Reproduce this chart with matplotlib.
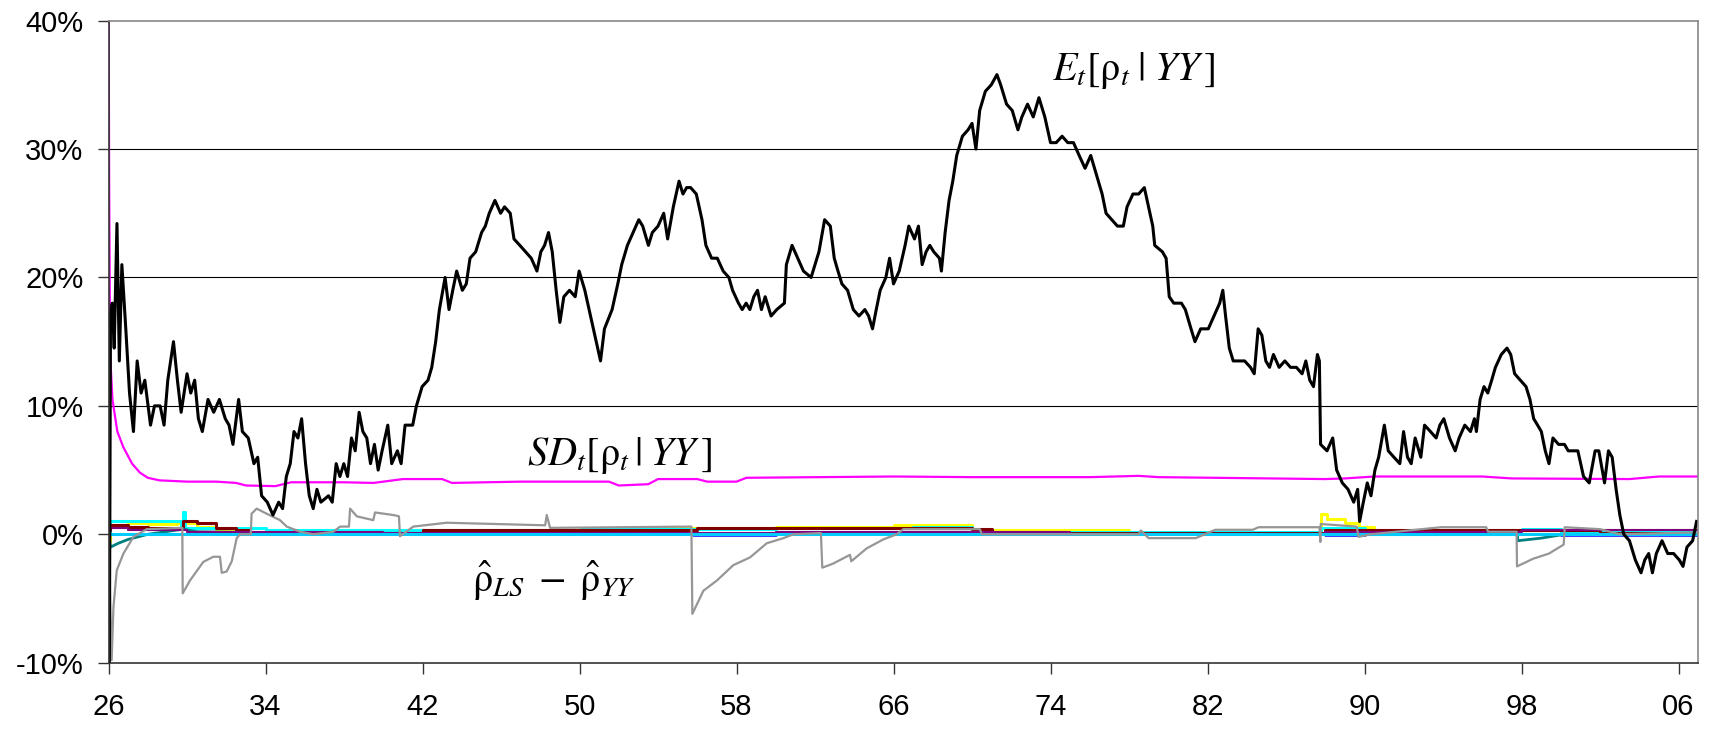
import numpy as np
import matplotlib
matplotlib.use("Agg")
import matplotlib.pyplot as plt
from matplotlib.ticker import FixedLocator, FuncFormatter

# ---------------- data (values in %) ----------------
# posterior mean E_t[rho_t | YY]
e_year = [1926.00, 1926.04, 1926.10, 1926.19, 1926.29, 1926.43, 1926.55, 1926.68, 1926.88,
          1927.07, 1927.27, 1927.46, 1927.66, 1927.85, 1928.14, 1928.34, 1928.63, 1928.83,
          1929.02, 1929.31, 1929.51, 1929.70, 1930.00, 1930.19, 1930.39, 1930.58, 1930.78,
          1931.07, 1931.36, 1931.65, 1931.95, 1932.14, 1932.34, 1932.63, 1932.82, 1933.12,
          1933.41, 1933.60, 1933.80, 1934.09, 1934.38, 1934.67, 1934.87, 1935.06, 1935.26,
          1935.45, 1935.65, 1935.84, 1936.04, 1936.23, 1936.43, 1936.62, 1936.82, 1937.21,
          1937.40, 1937.60, 1937.79, 1937.99, 1938.18, 1938.38, 1938.57, 1938.77, 1938.96,
          1939.16, 1939.35, 1939.55, 1939.74, 1939.94, 1940.23, 1940.43, 1940.72, 1940.91,
          1941.11, 1941.50, 1941.69, 1941.98, 1942.28, 1942.47, 1942.67, 1942.86, 1943.15,
          1943.35, 1943.54, 1943.74, 1944.03, 1944.23, 1944.42, 1944.71, 1945.01, 1945.20,
          1945.40, 1945.69, 1945.98, 1946.18, 1946.47, 1946.66, 1946.96, 1947.25, 1947.54,
          1947.83, 1948.03, 1948.22, 1948.42, 1948.61, 1948.81, 1949.00, 1949.20, 1949.49,
          1949.78, 1949.98, 1950.27, 1950.56, 1950.85, 1951.07, 1951.27, 1951.66, 1951.95,
          1952.15, 1952.44, 1952.73, 1953.02, 1953.22, 1953.51, 1953.71, 1954.00, 1954.29,
          1954.49, 1954.78, 1955.07, 1955.27, 1955.46, 1955.66, 1955.95, 1956.24, 1956.44,
          1956.73, 1957.02, 1957.32, 1957.61, 1957.80, 1958.10, 1958.29, 1958.49, 1958.68,
          1958.88, 1959.07, 1959.27, 1959.46, 1959.76, 1960.05, 1960.44, 1960.54, 1960.83,
          1961.12, 1961.41, 1961.80, 1962.00, 1962.20, 1962.49, 1962.78, 1962.98, 1963.17,
          1963.37, 1963.66, 1963.95, 1964.24, 1964.54, 1964.73, 1964.93, 1965.12, 1965.32,
          1965.61, 1965.80, 1966.00, 1966.29, 1966.59, 1966.78, 1967.07, 1967.27, 1967.46,
          1967.66, 1967.85, 1968.05, 1968.34, 1968.44, 1968.63, 1968.83, 1969.02, 1969.22,
          1969.51, 1969.80, 1970.00, 1970.20, 1970.39, 1970.68, 1970.98, 1971.27, 1971.46,
          1971.76, 1972.05, 1972.34, 1972.54, 1972.83, 1973.12, 1973.41, 1973.71, 1974.00,
          1974.29, 1974.59, 1974.88, 1975.17, 1975.46, 1975.76, 1976.05, 1976.34, 1976.63,
          1976.83, 1977.12, 1977.41, 1977.71, 1977.90, 1978.20, 1978.49, 1978.78, 1979.07,
          1979.21, 1979.31, 1979.70, 1979.89, 1980.05, 1980.28, 1980.67, 1980.87, 1981.16,
          1981.36, 1981.65, 1982.04, 1982.33, 1982.62, 1982.78, 1982.92, 1983.11, 1983.31,
          1983.60, 1983.89, 1984.19, 1984.38, 1984.58, 1984.77, 1984.97, 1985.16, 1985.36,
          1985.65, 1985.94, 1986.23, 1986.53, 1986.82, 1987.01, 1987.21, 1987.40, 1987.60,
          1987.70, 1987.76, 1988.09, 1988.38, 1988.58, 1988.87, 1989.16, 1989.45, 1989.65,
          1989.75, 1989.94, 1990.14, 1990.33, 1990.53, 1990.72, 1991.01, 1991.21, 1991.50,
          1991.80, 1991.99, 1992.19, 1992.38, 1992.58, 1992.87, 1993.06, 1993.36, 1993.65,
          1993.84, 1994.04, 1994.33, 1994.62, 1994.82, 1995.11, 1995.40, 1995.60, 1995.70,
          1995.89, 1996.09, 1996.28, 1996.48, 1996.67, 1996.97, 1997.26, 1997.45, 1997.65,
          1997.94, 1998.23, 1998.43, 1998.62, 1998.82, 1999.01, 1999.21, 1999.40, 1999.60,
          1999.89, 2000.19, 2000.38, 2000.67, 2000.87, 2001.16, 2001.45, 2001.75, 2001.94,
          2002.23, 2002.43, 2002.62, 2002.82, 2003.01, 2003.21, 2003.50, 2003.80, 2004.09,
          2004.28, 2004.48, 2004.67, 2004.87, 2005.16, 2005.45, 2005.75, 2006.04, 2006.23,
          2006.43, 2006.72, 2006.92]
e_val = [-12.0, -12.0, 17.0, 18.0, 14.5, 24.2, 13.5, 21.0, 16.0,
         11.0, 8.0, 13.5, 11.0, 12.0, 8.5, 10.0, 10.0, 8.5,
         12.0, 15.0, 12.0, 9.5, 12.5, 11.0, 12.0, 9.0, 8.0,
         10.5, 9.5, 10.5, 9.0, 8.5, 7.0, 10.5, 8.0, 7.5,
         5.5, 6.0, 3.0, 2.5, 1.5, 2.5, 2.0, 4.5, 5.5,
         8.0, 7.5, 9.0, 5.5, 3.0, 2.0, 3.5, 2.5, 3.0,
         2.5, 5.5, 4.5, 5.5, 4.5, 7.5, 6.5, 9.5, 8.0,
         7.5, 5.5, 7.0, 5.0, 6.5, 8.5, 5.5, 6.5, 5.5,
         8.5, 8.5, 10.0, 11.5, 12.0, 13.0, 15.0, 17.5, 20.0,
         17.5, 19.0, 20.5, 19.0, 19.5, 21.5, 22.0, 23.5, 24.0,
         25.0, 26.0, 25.0, 25.5, 25.0, 23.0, 22.5, 22.0, 21.5,
         20.5, 22.0, 22.5, 23.5, 22.0, 19.0, 16.5, 18.5, 19.0,
         18.5, 20.5, 19.0, 17.0, 15.0, 13.5, 16.0, 17.5, 19.5,
         21.0, 22.5, 23.5, 24.5, 24.0, 22.5, 23.5, 24.0, 25.0,
         23.0, 25.5, 27.5, 26.5, 27.0, 27.0, 26.5, 24.5, 22.5,
         21.5, 21.5, 20.5, 20.0, 19.0, 18.0, 17.5, 18.0, 17.5,
         18.5, 19.0, 17.5, 18.5, 17.0, 17.5, 18.0, 21.0, 22.5,
         21.5, 20.5, 20.0, 21.0, 22.0, 24.5, 24.0, 21.5, 20.5,
         19.5, 19.0, 17.5, 17.0, 17.5, 17.0, 16.0, 17.5, 19.0,
         20.0, 21.5, 19.5, 20.5, 22.5, 24.0, 23.0, 24.0, 21.0,
         22.0, 22.5, 22.0, 21.5, 20.5, 23.5, 26.0, 27.5, 29.5,
         31.0, 31.5, 32.0, 30.0, 33.0, 34.5, 35.0, 35.8, 35.0,
         33.5, 33.0, 31.5, 32.5, 33.5, 32.5, 34.0, 32.5, 30.5,
         30.5, 31.0, 30.5, 30.5, 29.5, 28.5, 29.5, 28.0, 26.5,
         25.0, 24.5, 24.0, 24.0, 25.5, 26.5, 26.5, 27.0, 25.0,
         24.0, 22.5, 22.0, 21.5, 18.5, 18.0, 18.0, 17.5, 16.0,
         15.0, 16.0, 16.0, 17.0, 18.0, 19.0, 17.0, 14.5, 13.5,
         13.5, 13.5, 13.0, 12.5, 16.0, 15.5, 13.5, 13.0, 14.0,
         13.0, 13.5, 13.0, 13.0, 12.5, 13.5, 12.0, 11.5, 14.0,
         13.5, 7.0, 6.5, 7.5, 5.0, 4.0, 3.5, 2.5, 3.5,
         1.0, 2.5, 4.0, 3.0, 5.0, 6.0, 8.5, 6.5, 6.0,
         5.5, 8.0, 6.0, 5.5, 7.5, 6.0, 8.5, 8.0, 7.5,
         8.5, 9.0, 7.5, 6.5, 7.5, 8.5, 8.0, 9.0, 8.0,
         10.5, 11.5, 11.0, 12.0, 13.0, 14.0, 14.5, 14.0, 12.5,
         12.0, 11.5, 10.5, 9.0, 8.5, 8.0, 6.5, 5.5, 7.5,
         7.0, 7.0, 6.5, 6.5, 6.5, 4.5, 4.0, 6.5, 6.5,
         4.0, 6.5, 6.0, 3.5, 1.5, 0.0, -0.5, -2.0, -3.0,
         -2.0, -1.5, -3.0, -1.5, -0.5, -1.5, -1.5, -2.0, -2.5,
         -1.0, -0.5, 1.0]

# posterior standard deviation SD_t[rho_t | YY]
sd_year = [1926.00, 1926.03, 1926.08, 1926.20, 1926.45, 1926.75, 1927.20, 1927.60, 1928.00,
           1928.60, 1930.00, 1931.50, 1932.50, 1933.00, 1934.50, 1935.30, 1938.00, 1939.50,
           1941.00, 1943.00, 1943.50, 1947.00, 1951.50, 1952.00, 1953.50, 1954.00, 1956.00,
           1956.50, 1958.00, 1958.50, 1966.00, 1970.00, 1976.00, 1978.50, 1979.50, 1988.00,
           1989.00, 1990.50, 1996.00, 1997.50, 2003.50, 2005.00, 2006.98]
sd_val = [45.0, 28.0, 14.0, 10.5, 8.0, 6.8, 5.5, 4.8, 4.4,
          4.2, 4.1, 4.1, 4.0, 3.8, 3.75, 4.05, 4.05, 4.0,
          4.3, 4.3, 4.0, 4.1, 4.1, 3.8, 3.9, 4.3, 4.3,
          4.1, 4.1, 4.4, 4.5, 4.45, 4.45, 4.55, 4.45, 4.3,
          4.35, 4.5, 4.5, 4.35, 4.3, 4.5, 4.5]

# differences rho_LS - rho_YY (one line per estimator)
gray_year = [1926.00, 1926.16, 1926.25, 1926.42, 1926.76, 1927.27, 1927.95, 1929.76, 1929.78,
             1930.15, 1930.83, 1931.34, 1931.68, 1931.77, 1932.02, 1932.28, 1932.53, 1932.70,
             1933.25, 1933.29, 1933.55, 1934.06, 1934.74, 1935.08, 1935.76, 1936.44, 1937.46,
             1937.80, 1938.25, 1938.31, 1938.65, 1939.49, 1939.58, 1940.51, 1940.80, 1940.85,
             1941.53, 1943.23, 1948.25, 1948.33, 1948.50, 1955.70, 1955.75, 1956.31, 1957.00,
             1957.84, 1958.69, 1959.54, 1960.39, 1960.90, 1962.30, 1962.37, 1962.90, 1963.78,
             1963.85, 1964.63, 1965.48, 1966.16, 1966.50, 1970.40, 1970.50, 1978.50, 1978.60,
             1979.00, 1981.40, 1982.40, 1984.30, 1984.60, 1987.70, 1987.75, 1987.77, 1989.60,
             1989.70, 1990.30, 1993.90, 1996.20, 1996.30, 1997.75, 1997.77, 1998.60, 1999.40,
             2000.15, 2000.20, 2002.00, 2003.00, 2006.98]
gray_val = [0.0, -9.8, -5.7, -2.8, -1.5, -0.2, 0.4, 0.5, -4.6,
            -3.6, -2.15, -1.75, -1.75, -3.0, -2.9, -2.1, -0.3, 0.0,
            0.0, 1.6, 2.0, 1.6, 1.1, 0.6, 0.2, 0.0, 0.2,
            0.6, 0.6, 2.0, 1.4, 1.1, 1.7, 1.5, 1.4, -0.15,
            0.6, 0.9, 0.7, 1.5, 0.5, 0.6, -6.2, -4.4, -3.6,
            -2.4, -1.8, -0.7, -0.3, 0.0, 0.1, -2.6, -2.3, -1.6,
            -2.1, -1.1, -0.4, 0.0, 0.4, 0.4, 0.0, 0.0, 0.3,
            -0.3, -0.3, 0.35, 0.35, 0.55, 0.55, -0.6, 0.8, 0.6,
            -0.2, 0.0, 0.55, 0.55, 0.2, 0.2, -2.5, -1.9, -1.5,
            -0.8, 0.55, 0.4, 0.0, 0.15]

yellow_year = [1926.00, 1926.10, 1927.00, 1928.00, 1929.50, 1930.50, 1931.50, 1933.00, 1940.00,
               1950.00, 1960.00, 1966.00, 1970.00, 1978.00, 1979.50, 1982.00, 1987.70, 1987.77,
               1988.10, 1989.00, 1989.70, 1990.50, 1995.00, 1997.50, 1998.50, 2003.00, 2006.98]
yellow_val = [-0.5, 1.0, 0.9, 0.8, 0.9, 0.6, 0.4, 0.2, 0.3,
              0.5, 0.6, 0.7, 0.3, 0.1, 0.2, 0.1, 0.1, 1.6,
              1.2, 0.9, 0.6, 0.2, 0.2, 0.3, 0.3, 0.3, 0.4]

cyan_year = [1926.00, 1926.10, 1929.70, 1929.80, 1929.90, 1933.30, 1934.00, 1940.00, 1950.00,
             1960.00, 1967.00, 1970.00, 1987.70, 1987.77, 1990.00, 1997.80, 1998.00, 2000.00,
             2006.98]
cyan_val = [0.0, 1.0, 0.6, 1.7, 0.5, 0.5, 0.3, 0.3, 0.4,
            0.5, 0.6, 0.2, 0.2, 0.5, 0.0, 0.3, 0.4, 0.2,
            0.3]

maroon_year = [1926.00, 1926.10, 1927.00, 1928.00, 1929.00, 1929.80, 1930.50, 1931.50, 1932.50,
               1933.20, 1940.00, 1942.00, 1948.00, 1955.00, 1956.00, 1962.00, 1966.00, 1970.00,
               1971.00, 1988.00, 1989.00, 2000.00, 2002.00, 2006.98]
maroon_val = [0.3, 0.7, 0.6, 0.5, 0.5, 1.0, 0.9, 0.5, 0.3,
              0.1, 0.1, 0.3, 0.3, 0.3, 0.5, 0.5, 0.5, 0.4,
              0.1, 0.3, 0.3, 0.3, 0.1, 0.1]

teal_year = [1926.00, 1926.10, 1926.50, 1927.00, 1928.00, 1929.80, 1930.50, 1940.00, 1960.00,
             1987.70, 1997.78, 1997.82, 1999.00, 2000.20, 2006.98]
teal_val = [0.0, -1.0, -0.7, -0.4, 0.0, 0.4, 0.2, 0.0, 0.0,
            0.0, 0.0, -0.5, -0.3, 0.0, 0.0]

purple_year = [1926.00, 1926.10, 1927.00, 1930.00, 1940.00, 1960.00, 1975.00, 1988.00, 1998.00, 2006.98]
purple_val = [0.0, 0.5, 0.3, 0.2, 0.1, 0.2, 0.0, 0.2, 0.3, 0.1]

blue_year = [1926.00, 1933.30, 1955.80, 1960.00, 1988.00, 1990.00, 1997.80, 2000.00, 2006.98]
blue_val = [0.05, 0.0, -0.05, 0.0, -0.05, 0.0, 0.05, -0.05, 0.0]

sky_year = [1926.00, 2006.98]
sky_val = [0.0, 0.0]

tick_years = list(range(1926, 2007, 8))
tick_pct = [-10, 0, 10, 20, 30, 40]

# ---------------- plot ----------------
plt.rcParams['font.family'] = ['Liberation Sans', 'DejaVu Sans']
plt.rcParams['mathtext.fontset'] = 'stix'
plt.rcParams['axes.unicode_minus'] = False

fig = plt.figure(figsize=(17.09, 7.30), dpi=100)
ax = fig.add_axes([0.0635, 0.0922, 0.9298, 0.8795])

# small lines first, black on top
ax.plot(yellow_year, yellow_val, color='#ffff00', lw=2.2, drawstyle='steps-post')
ax.plot(cyan_year, cyan_val, color='#00ffff', lw=2.2, drawstyle='steps-post')
ax.plot(maroon_year, maroon_val, color='#800000', lw=2.2, drawstyle='steps-post')
ax.plot(teal_year, teal_val, color='#008080', lw=2.0)
ax.plot(purple_year, purple_val, color='#800080', lw=1.5, drawstyle='steps-post')
ax.plot(blue_year, blue_val, color='#0000ff', lw=1.8, drawstyle='steps-post')
ax.plot(sky_year, sky_val, color='#00ccff', lw=2.2)
ax.plot(gray_year, gray_val, color='#969696', lw=1.6)
ax.plot(sd_year, sd_val, color='#ff00ff', lw=1.6)
ax.plot(e_year, e_val, color='black', lw=2.2)

ax.set_xlim(1926, 2006.97)
ax.set_ylim(-10, 40)

# horizontal gridlines only
for v in [10, 20, 30]:
    ax.axhline(v, color='black', lw=0.8, zorder=0)

ax.xaxis.set_major_locator(FixedLocator(tick_years))
ax.xaxis.set_major_formatter(FuncFormatter(lambda v, p: '%02d' % (int(round(v)) % 100)))
ax.yaxis.set_major_locator(FixedLocator(tick_pct))
ax.yaxis.set_major_formatter(FuncFormatter(lambda v, p: '%d%%' % int(round(v))))
ax.tick_params(axis='both', direction='out', length=8, width=1, labelsize=21, color='#333333')
ax.tick_params(axis='x', pad=14)
ax.tick_params(axis='y', pad=10)

for side in ['top', 'right']:
    ax.spines[side].set_color('#888888')
    ax.spines[side].set_linewidth(1.2)
for side in ['left', 'bottom']:
    ax.spines[side].set_color('#333333')
    ax.spines[side].set_linewidth(1.2)

# series labels
ax.text(1974.1, 35.4, r'$E_t[\mathrm{\rho}_t\;|\;YY\,]$', fontsize=29, ha='left', va='baseline')
ax.text(1947.3, 5.4, r'$SD_t[\mathrm{\rho}_t\,|\;YY\,]$', fontsize=29, ha='left', va='baseline')
ax.text(1944.5, -4.5, r'$\hat{\mathrm{\rho}}_{LS}\;-\;\hat{\mathrm{\rho}}_{YY}$', fontsize=29,
        ha='left', va='baseline')

fig.savefig('out.png', dpi=100)
